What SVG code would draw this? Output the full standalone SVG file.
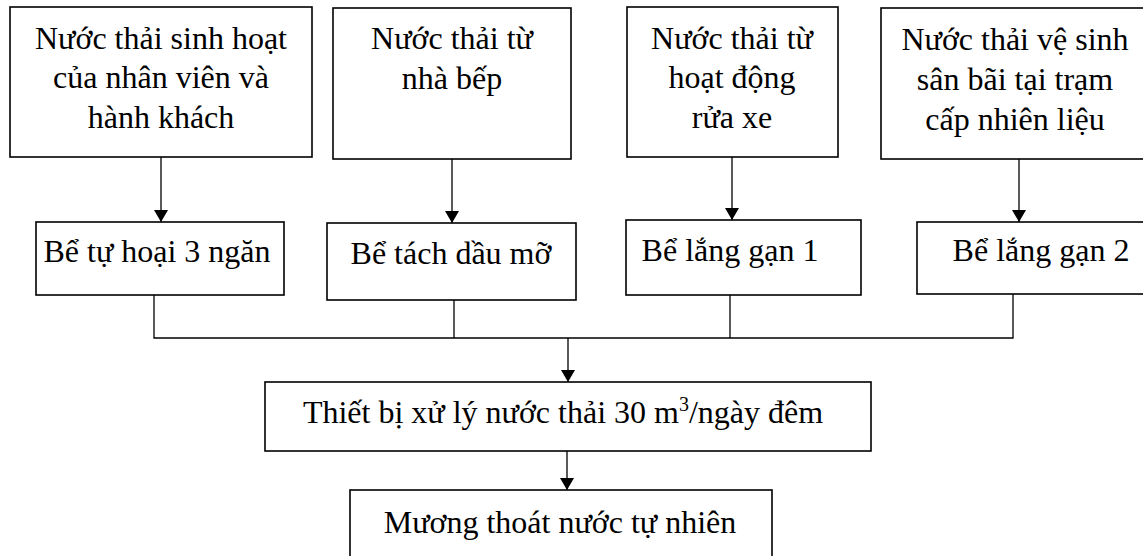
<svg xmlns="http://www.w3.org/2000/svg" width="1143" height="556" viewBox="0 0 1143 556">
<defs>
<style>
.box{fill:#fff;stroke:#000;stroke-width:1.6}
.t{font-family:"Liberation Serif","Times New Roman",serif;font-size:32px;fill:#000;text-anchor:middle}
.ln{fill:none;stroke:#000;stroke-width:1.3}
</style>
<marker id="ah" viewBox="0 0 12 14" refX="12" refY="7" markerWidth="12" markerHeight="14" markerUnits="userSpaceOnUse" orient="auto">
<path d="M0,0 L12,7 L0,14 Z" fill="#000"/>
</marker>
</defs>
<rect width="1143" height="556" fill="#fff"/>
<g id="n1"><rect class="box" x="10" y="7" width="302" height="150"/>
<text class="t" x="161" y="49">Nước thải sinh hoạt</text>
<text class="t" x="161" y="88">của nhân viên và</text>
<text class="t" x="161" y="128">hành khách</text></g>
<g id="n2"><rect class="box" x="333" y="8" width="238" height="151"/>
<text class="t" x="452" y="49">Nước thải từ</text>
<text class="t" x="452" y="89">nhà bếp</text></g>
<g id="n3"><rect class="box" x="627" y="7" width="211" height="150"/>
<text class="t" x="732" y="49">Nước thải từ</text>
<text class="t" x="732" y="88">hoạt động</text>
<text class="t" x="732" y="128">rửa xe</text></g>
<g id="n4"><rect class="box" x="881" y="8" width="270" height="151"/>
<text class="t" x="1015" y="50">Nước thải vệ sinh</text>
<text class="t" x="1015" y="90">sân bãi tại trạm</text>
<text class="t" x="1015" y="130">cấp nhiên liệu</text></g>
<g id="nA"><rect class="box" x="36" y="222" width="248" height="73"/>
<text class="t" x="157" y="262">Bể tự hoại 3 ngăn</text></g>
<g id="nB"><rect class="box" x="327" y="223" width="249" height="77"/>
<text class="t" x="451" y="264">Bể tách dầu mỡ</text></g>
<g id="nC"><rect class="box" x="626" y="220" width="235" height="75"/>
<text class="t" x="730" y="261">Bể lắng gạn 1</text></g>
<g id="nD"><rect class="box" x="917" y="222" width="240" height="72"/>
<text class="t" x="1041" y="261">Bể lắng gạn 2</text></g>
<g id="nE"><rect class="box" x="265" y="382" width="606" height="69"/>
<text class="t" x="563" y="423">Thiết bị xử lý nước thải 30 m<tspan dy="-12" font-size="20">3</tspan><tspan dy="12">/ngày đêm</tspan></text></g>
<g id="nF"><rect class="box" x="350" y="490" width="422" height="90"/>
<text class="t" x="560" y="533">Mương thoát nước tự nhiên</text></g>
<g id="connectors">
<line class="ln" x1="161" y1="157" x2="161" y2="222" marker-end="url(#ah)"/>
<line class="ln" x1="452" y1="159" x2="452" y2="223" marker-end="url(#ah)"/>
<line class="ln" x1="732" y1="157" x2="732" y2="220" marker-end="url(#ah)"/>
<line class="ln" x1="1019" y1="159" x2="1019" y2="222" marker-end="url(#ah)"/>
<polyline class="ln" points="154,295 154,338 1013,338 1013,294"/>
<line class="ln" x1="454" y1="300" x2="454" y2="338"/>
<line class="ln" x1="730" y1="295" x2="730" y2="338"/>
<line class="ln" x1="568" y1="338" x2="568" y2="382" marker-end="url(#ah)"/>
<line class="ln" x1="567" y1="451" x2="567" y2="490" marker-end="url(#ah)"/>
</g>
</svg>
